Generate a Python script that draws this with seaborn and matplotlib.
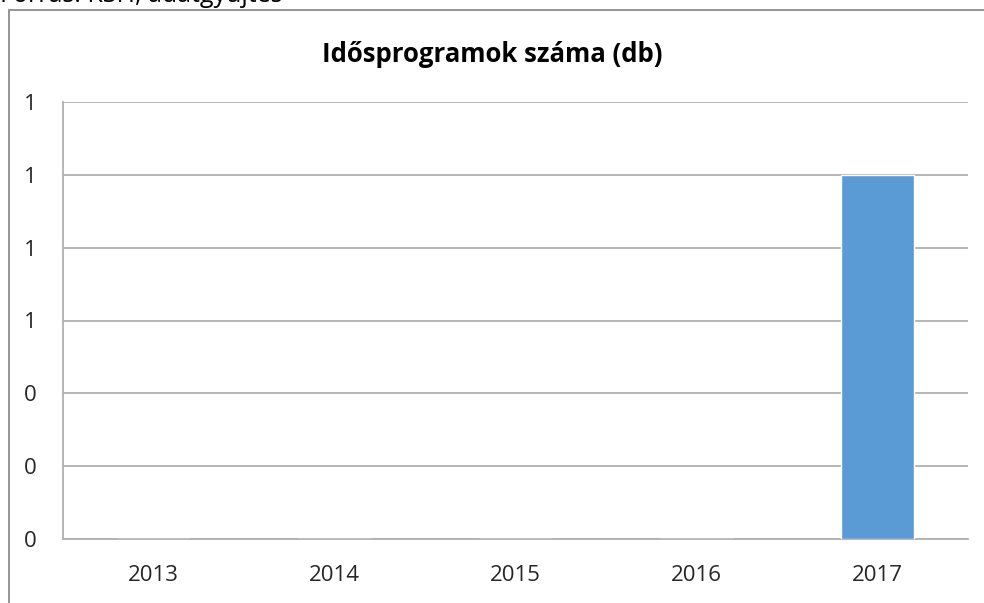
import matplotlib
matplotlib.use("Agg")
import matplotlib.pyplot as plt
import seaborn as sns
import pandas as pd
from matplotlib.patches import Rectangle
from matplotlib.ticker import FuncFormatter

# data
years = ["2013", "2014", "2015", "2016", "2017"]
counts = [0, 0, 0, 0, 1]
y_ticks = [0, 0.2, 0.4, 0.6, 0.8, 1.0, 1.2]

df = pd.DataFrame({"year": years, "count": counts})

sns.set_style("white")
plt.rcParams["font.family"] = ["Open Sans", "DejaVu Sans"]

fig = plt.figure(figsize=(9.84, 6.03), dpi=100)
ax = fig.add_axes([63 / 984, 64 / 603, 905 / 984, 437 / 603])

sns.barplot(data=df, x="year", y="count", color="#5b9bd5", width=0.4,
            saturation=1, ax=ax, zorder=3)

ax.set_ylim(0, 1.2)
ax.set_yticks(y_ticks)
ax.yaxis.set_major_formatter(FuncFormatter(lambda v, p: f"{v:.0f}"))
ax.set_xlim(-0.5, len(years) - 0.5)
ax.grid(axis="y", color="#b0b0b0", linewidth=1.3, zorder=0)
ax.set_axisbelow(True)

for s in ["top", "right"]:
    ax.spines[s].set_visible(False)
ax.spines["left"].set_color("#b0b0b0")
ax.spines["bottom"].set_color("#b0b0b0")
ax.spines["left"].set_linewidth(1.3)
ax.spines["bottom"].set_linewidth(1.3)

# category boundary ticks on x axis
ax.set_xticks([i - 0.5 for i in range(len(years) + 1)], minor=True)
ax.tick_params(axis="x", which="minor", length=8, color="#b0b0b0", width=1.3)
ax.tick_params(axis="x", which="major", length=0, pad=19, labelsize=16, labelcolor="#262626")
ax.tick_params(axis="y", length=8, color="#b0b0b0", width=1.3, pad=11,
               labelsize=16, labelcolor="#262626")
ax.set_xlabel("")
ax.set_ylabel("")

fig.text(0.5, 1 - 55 / 603, "Idősprogramok száma (db)", ha="center", va="center",
         fontsize=18.5, fontweight="bold", color="#000000")

# chart frame (right and bottom edges fall outside the picture)
fig.patches.append(Rectangle((9 / 984, -0.05), 1.1, 1.05 - 10 / 603, transform=fig.transFigure,
                             fill=False, edgecolor="#8c8c8c", linewidth=1.3))

# cropped source line at the very top
fig.text(0.0, 1.0 + 5 / 603, "Forrás: KSH, adatgyűjtés", ha="left", va="center",
         fontsize=18, color="#000000")

fig.savefig("out.png", dpi=100)
